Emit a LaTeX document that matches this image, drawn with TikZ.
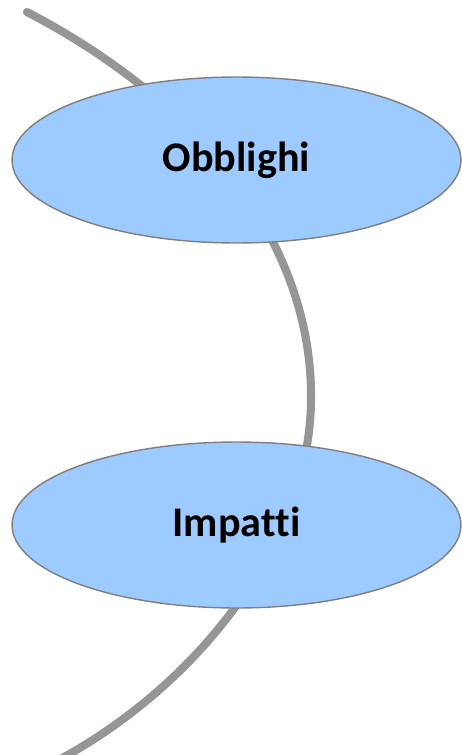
\documentclass[tikz,border=0pt]{standalone}
\usepackage{fontspec}
\setmainfont[Ligatures={NoCommon}]{Carlito}
\usetikzlibrary{shapes.geometric}
\definecolor{bubble}{HTML}{9DCBFF}
\definecolor{bubbleline}{HTML}{7F7F7F}
\definecolor{thread}{HTML}{969696}
\tikzset{
    topic/.style={ellipse, draw=bubbleline, line width=0.8pt, fill=bubble,
        minimum width=8.98cm, minimum height=3.32cm, inner sep=0pt,
        font=\fontsize{24}{28}\selectfont\bfseries},
    threadline/.style={draw=thread, line width=4.6pt, line cap=round}
}
\begin{document}
\begin{tikzpicture}[x=0.02cm, y=-0.02cm]
    \useasboundingbox (0, 0) rectangle (461, 755);
    \coordinate (start) at (27, 12);
    \coordinate (turn) at (311, 400);
    \coordinate (finish) at (55, 762);

    \draw [threadline] (start) .. controls (215, 110) and (313, 255) .. (turn)
        .. controls (310, 540) and (200, 685) .. (finish);

    \node [topic] (obblighi) at (236.5, 160) {Obblighi};
    \node [topic] (impatti) at (236.5, 525) {Impatti};
\end{tikzpicture}
\end{document}
